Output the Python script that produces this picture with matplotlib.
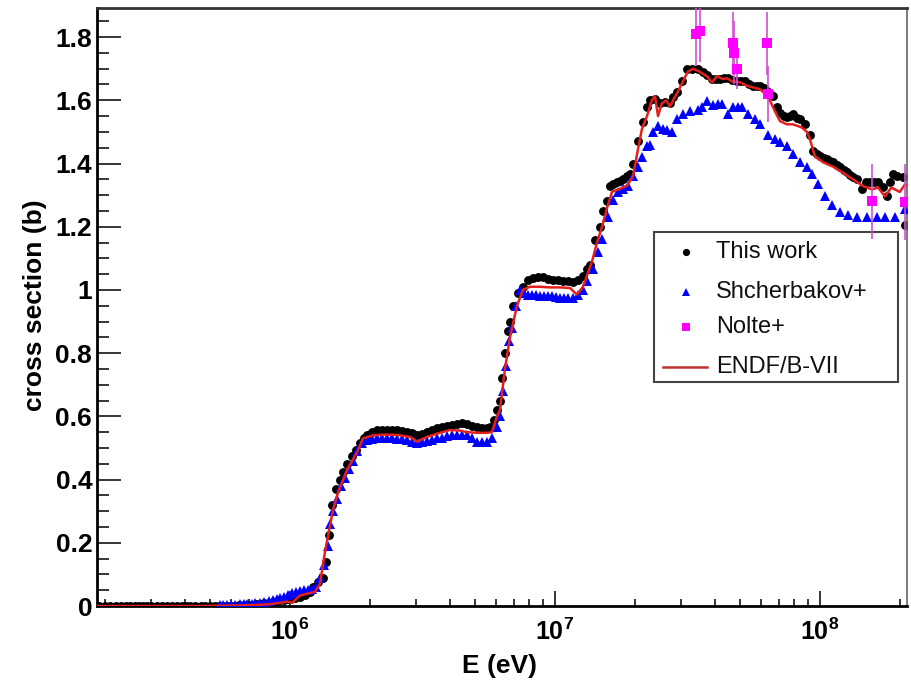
import numpy as np
import matplotlib
matplotlib.use('Agg')
import matplotlib.pyplot as plt
from matplotlib.ticker import FixedLocator, LogLocator, MultipleLocator, NullFormatter, FuncFormatter
from matplotlib.patches import Rectangle
from matplotlib.lines import Line2D

plt.rcParams['font.family'] = ['Liberation Sans', 'DejaVu Sans']
plt.rcParams['mathtext.fontset'] = 'custom'
plt.rcParams['mathtext.rm'] = 'Liberation Sans:bold'
plt.rcParams['mathtext.bf'] = 'Liberation Sans:bold'
plt.rcParams['mathtext.it'] = 'Liberation Sans:bold'

# ---------------- data (E in MeV, cross section in barn) ----------------
this_work = [
    (0.19, 0.0), (0.20, 0.0), (0.21, 0.0), (0.22, 0.0), (0.23, 0.0), (0.24, 0.0), (0.25, 0.0),
    (0.26, 0.0), (0.27, 0.0), (0.28, 0.0), (0.29, 0.0), (0.30, 0.0), (0.315, 0.0), (0.33, 0.0),
    (0.345, 0.0), (0.36, 0.0), (0.375, 0.0), (0.39, 0.0), (0.405, 0.0), (0.42, 0.0), (0.44, 0.0),
    (0.46, 0.0), (0.48, 0.0), (0.50, 0.0), (0.52, 0.0), (0.54, 0.0), (0.56, 0.0), (0.58, 0.0),
    (0.60, 0.001), (0.62, 0.001), (0.645, 0.002), (0.67, 0.002), (0.695, 0.003), (0.72, 0.004),
    (0.745, 0.005), (0.77, 0.006), (0.80, 0.008), (0.83, 0.010), (0.86, 0.012), (0.89, 0.015),
    (0.92, 0.018), (0.95, 0.020), (0.98, 0.022),
    (1.044, 0.025), (1.091, 0.03), (1.139, 0.035), (1.19, 0.045), (1.22, 0.06), (1.276, 0.075),
    (1.33, 0.09), (1.365, 0.14), (1.40, 0.225), (1.44, 0.32), (1.49, 0.37), (1.544, 0.40),
    (1.585, 0.425), (1.641, 0.45), (1.714, 0.475), (1.774, 0.495), (1.837, 0.515), (1.902, 0.53),
    (1.953, 0.54), (2.039, 0.55), (2.13, 0.556), (2.224, 0.558), (2.323, 0.557), (2.426, 0.557),
    (2.534, 0.556), (2.646, 0.555), (2.764, 0.552), (2.886, 0.548), (3.014, 0.54), (3.148, 0.545),
    (3.289, 0.552), (3.434, 0.557), (3.587, 0.562), (3.746, 0.567), (3.913, 0.57), (4.087, 0.573),
    (4.268, 0.577), (4.458, 0.58), (4.655, 0.575), (4.862, 0.568), (5.078, 0.565), (5.303, 0.564),
    (5.539, 0.563), (5.685, 0.565), (5.886, 0.59), (6.041, 0.62), (6.201, 0.65), (6.31, 0.72),
    (6.476, 0.80), (6.647, 0.87), (6.764, 0.897), (6.943, 0.95), (7.252, 0.99), (7.572, 1.01),
    (7.91, 1.03), (8.26, 1.038), (8.627, 1.04), (9.01, 1.04), (9.41, 1.035), (9.828, 1.032),
    (10.26, 1.03), (10.72, 1.027), (11.2, 1.027), (11.69, 1.025), (12.21, 1.03), (12.76, 1.045),
    (13.21, 1.065), (13.56, 1.08), (14.16, 1.157), (14.79, 1.20), (15.18, 1.25), (15.72, 1.28),
    (16.13, 1.33), (16.55, 1.335), (17.14, 1.34), (17.59, 1.345), (18.06, 1.35), (18.7, 1.36),
    (19.19, 1.366), (19.7, 1.40), (20.57, 1.47), (21.48, 1.53), (22.25, 1.58), (22.83, 1.60),
    (23.85, 1.603), (24.91, 1.59), (26.01, 1.595), (27.16, 1.59), (27.88, 1.61), (28.87, 1.625),
    (30.16, 1.66), (31.49, 1.70), (32.88, 1.70), (34.64, 1.698), (36.18, 1.69), (37.46, 1.68),
    (39.13, 1.667), (40.5, 1.666), (41.95, 1.667), (43.4, 1.67), (44.96, 1.67), (46.55, 1.665),
    (48.62, 1.66), (50.3, 1.66), (52.12, 1.66), (54.0, 1.652), (55.87, 1.645), (57.8, 1.645),
    (59.36, 1.645), (61.5, 1.64), (63.1, 1.63), (64.9, 1.62), (66.47, 1.613), (68.8, 1.58),
    (70.64, 1.56), (73.1, 1.55), (75.07, 1.546), (77.05, 1.55), (79.09, 1.556), (81.9, 1.545),
    (84.04, 1.54), (87.78, 1.524), (91.68, 1.49), (94.1, 1.44), (97.4, 1.43), (100.0, 1.423),
    (103.5, 1.418), (106.3, 1.413), (109.1, 1.408), (112.0, 1.404), (116.0, 1.395), (119.0, 1.388),
    (123.2, 1.38), (126.5, 1.372), (129.8, 1.365), (133.2, 1.356), (137.9, 1.35), (144.1, 1.318),
    (149.1, 1.343), (154.5, 1.343), (159.8, 1.342), (165.6, 1.343), (172.9, 1.325), (179.0, 1.296),
    (183.9, 1.34), (188.6, 1.366), (195.4, 1.36), (205.7, 1.356), (209.4, 1.207),
]

shcherbakov = [
    (0.544, 0.002), (0.56, 0.002), (0.58, 0.003), (0.60, 0.003), (0.62, 0.004), (0.648, 0.005),
    (0.67, 0.005), (0.69, 0.006), (0.72, 0.007), (0.74, 0.008), (0.77, 0.010), (0.80, 0.012),
    (0.83, 0.015), (0.86, 0.018), (0.89, 0.022), (0.917, 0.025), (0.95, 0.03), (0.98, 0.035),
    (1.02, 0.04), (1.05, 0.045), (1.09, 0.048), (1.13, 0.05), (1.17, 0.052), (1.21, 0.055),
    (1.25, 0.06), (1.298, 0.09), (1.34, 0.13), (1.39, 0.19), (1.415, 0.26), (1.45, 0.30),
    (1.505, 0.34), (1.56, 0.38), (1.61, 0.405), (1.67, 0.435), (1.73, 0.46), (1.79, 0.49),
    (1.87, 0.515), (1.953, 0.525), (2.039, 0.528), (2.13, 0.53), (2.224, 0.53), (2.323, 0.53),
    (2.426, 0.53), (2.534, 0.528), (2.646, 0.527), (2.764, 0.525), (2.886, 0.52), (3.014, 0.515),
    (3.148, 0.52), (3.289, 0.523), (3.434, 0.525), (3.587, 0.53), (3.746, 0.533), (3.913, 0.537),
    (4.087, 0.54), (4.268, 0.54), (4.458, 0.54), (4.655, 0.54), (4.862, 0.53), (5.078, 0.52),
    (5.303, 0.52), (5.539, 0.52), (5.78, 0.53), (6.041, 0.567), (6.201, 0.60), (6.39, 0.68),
    (6.53, 0.76), (6.70, 0.84), (6.88, 0.88), (7.13, 0.95), (7.38, 1.0), (7.64, 0.99),
    (7.91, 0.985), (8.19, 0.985), (8.48, 0.985), (8.78, 0.98), (9.09, 0.98), (9.41, 0.98),
    (9.74, 0.98), (10.09, 0.978), (10.44, 0.975), (10.81, 0.975), (11.2, 0.975), (11.69, 0.975),
    (12.21, 0.985), (12.76, 1.0), (13.21, 1.027), (13.92, 1.065), (14.54, 1.12), (15.05, 1.16),
    (15.86, 1.23), (16.55, 1.286), (17.29, 1.31), (18.06, 1.32), (18.87, 1.33), (19.7, 1.36),
    (20.57, 1.39), (21.3, 1.42), (22.25, 1.455), (22.83, 1.46), (23.43, 1.50), (24.48, 1.52),
    (25.56, 1.51), (26.5, 1.505), (27.64, 1.50), (28.87, 1.54), (30.41, 1.556), (32.31, 1.565),
    (34.64, 1.57), (35.87, 1.578), (37.46, 1.597), (39.47, 1.585), (41.2, 1.587), (42.68, 1.587),
    (44.96, 1.556), (46.96, 1.578), (49.0, 1.58), (50.78, 1.58), (53.49, 1.556), (56.85, 1.54),
    (59.36, 1.524), (63.66, 1.49), (67.63, 1.476), (70.64, 1.467), (75.07, 1.455), (79.09, 1.43),
    (84.04, 1.404), (89.31, 1.388), (93.29, 1.366), (98.29, 1.334), (104.4, 1.296), (111.0, 1.27),
    (119.0, 1.248), (127.6, 1.236), (137.9, 1.23), (150.5, 1.23), (164.1, 1.23), (175.9, 1.23),
    (191.9, 1.23), (209.4, 1.255),
]

endf = [
    (0.187, 0.0), (0.25, 0.0), (0.35, 0.0), (0.45, 0.0), (0.55, 0.001), (0.65, 0.002),
    (0.77, 0.004), (0.84, 0.006), (0.917, 0.01), (0.98, 0.014), (1.02, 0.01), (1.09, 0.033),
    (1.243, 0.045), (1.298, 0.07), (1.355, 0.17), (1.45, 0.30), (1.52, 0.36), (1.641, 0.43),
    (1.80, 0.49), (1.885, 0.53), (2.06, 0.54), (2.24, 0.542), (2.45, 0.542), (2.60, 0.54),
    (2.84, 0.535), (3.014, 0.52), (3.289, 0.535), (3.587, 0.545), (4.02, 0.557), (4.38, 0.555),
    (4.655, 0.55), (5.078, 0.548), (5.539, 0.548), (5.78, 0.55), (6.041, 0.60), (6.201, 0.62),
    (6.476, 0.75), (6.764, 0.85), (7.19, 0.95), (7.572, 1.0), (8.03, 1.01), (8.78, 1.01),
    (9.58, 1.008), (10.44, 1.008), (11.4, 1.006), (12.1, 0.985), (12.76, 1.01), (13.8, 1.09),
    (14.41, 1.15), (15.05, 1.20), (15.72, 1.26), (16.41, 1.31), (17.59, 1.32), (18.7, 1.33),
    (19.7, 1.36), (20.57, 1.445), (21.3, 1.51), (22.25, 1.55), (23.2, 1.60), (23.85, 1.613),
    (24.48, 1.55), (25.3, 1.59), (26.3, 1.60), (27.16, 1.58), (28.3, 1.61), (29.0, 1.625),
    (30.4, 1.66), (31.7, 1.69), (33.2, 1.70), (35.25, 1.69), (37.46, 1.676), (39.13, 1.657),
    (40.8, 1.676), (43.06, 1.667), (44.5, 1.67), (46.55, 1.66), (49.9, 1.657), (53.49, 1.645),
    (59.36, 1.635), (63.66, 1.613), (67.63, 1.565), (70.64, 1.534), (75.07, 1.524), (79.09, 1.524),
    (85.4, 1.514), (89.31, 1.50), (91.68, 1.476), (95.7, 1.423), (102.6, 1.404), (112.0, 1.39),
    (121.5, 1.372), (133.2, 1.35), (145.8, 1.328), (157.2, 1.318), (165.6, 1.324), (175.9, 1.296),
    (186.0, 1.324), (200.0, 1.31), (209.4, 1.334), (213.0, 1.33),
]

nolte_E = [34.0, 35.3, 47.0, 47.5, 48.6, 63.1, 63.5, 157.2, 209.0]
nolte_xs = [1.81, 1.82, 1.78, 1.75, 1.70, 1.78, 1.62, 1.28, 1.277]
nolte_err = [0.10, 0.10, 0.10, 0.10, 0.065, 0.10, 0.09, 0.12, 0.12]

legend_labels = ['This work', 'Shcherbakov+', 'Nolte+', 'ENDF/B-VII']
x_tick_vals = [1e6, 1e7, 1e8]
x_tick_labels = [r'$\mathbf{10^{6}}$', r'$\mathbf{10^{7}}$', r'$\mathbf{10^{8}}$']

# ---------------- figure ----------------
W, H = 912, 683
fig = plt.figure(figsize=(W / 100, H / 100), dpi=100)
ax = fig.add_axes([97 / W, (H - 606) / H, (907 - 97) / W, (606 - 8) / H])

RED = '#e4201c'

tw = np.array(this_work)
sh = np.array(shcherbakov)
en = np.array(endf)

ax.plot(tw[:, 0] * 1e6, tw[:, 1], 'o', color='black', ms=6.4, mew=0, zorder=2)
ax.plot(sh[:, 0] * 1e6, sh[:, 1], '^', color='#0000ff', ms=6.8, mew=0, zorder=3)
ax.plot(en[:, 0] * 1e6, en[:, 1], '-', color=RED, lw=1.8, zorder=4)
ax.errorbar(np.array(nolte_E) * 1e6, nolte_xs, yerr=nolte_err, fmt='s', color='#ff00ff',
            ecolor='#d050d0', elinewidth=1.2, capsize=3.5, capthick=1.2, ms=6.5, mew=0, zorder=6)

ax.set_xscale('log')
ax.set_xlim(1.87e5, 2.13e8)
ax.set_ylim(0, 1.892)

ax.xaxis.set_major_locator(FixedLocator(x_tick_vals))
ax.set_xticklabels(x_tick_labels)
ax.xaxis.set_minor_locator(LogLocator(base=10, subs=np.arange(2, 10)))
ax.xaxis.set_minor_formatter(NullFormatter())
ax.yaxis.set_major_locator(MultipleLocator(0.2))
ax.yaxis.set_minor_locator(MultipleLocator(0.05))
ax.yaxis.set_major_formatter(FuncFormatter(lambda v, p: '%g' % round(v, 2)))

ax.tick_params(axis='x', which='major', direction='in', length=10.8, width=1.1, pad=9,
               labelsize=18, top=False)
ax.tick_params(axis='x', which='minor', direction='in', length=5, width=1.1, top=False)
ax.tick_params(axis='y', which='major', direction='in', length=17, width=1.1, pad=3.5,
               labelsize=19, right=False)
ax.tick_params(axis='y', which='minor', direction='in', length=8.6, width=1.1, right=False)
for lab in ax.get_yticklabels():
    lab.set_fontweight('bold')

ax.spines['left'].set_linewidth(2.0)
ax.spines['bottom'].set_linewidth(2.0)
ax.spines['top'].set_linewidth(2.0)
ax.spines['top'].set_color('#333333')
ax.spines['right'].set_linewidth(1.2)
ax.spines['right'].set_color('#666666')

fig.text(500 / W, 1 - 666 / H, 'E (eV)', ha='center', va='center', fontsize=19, fontweight='bold')
fig.text(35 / W, 1 - 305 / H, 'cross section (b)', ha='center', va='center', rotation=90,
         fontsize=19, fontweight='bold')

# ---------------- legend (ROOT style) ----------------
def fx(px):
    return (px - 97) / 810

def fy(py):
    return (606 - py) / 598

ax.add_patch(Rectangle((fx(654), fy(382)), fx(898) - fx(654), fy(232) - fy(382),
                       transform=ax.transAxes, facecolor='white', edgecolor='#444444',
                       lw=1.5, zorder=5, clip_on=False))
rows = [252, 292, 327, 367]
ax.plot([fx(686)], [fy(rows[0])], 'o', color='black', ms=5.2, mew=0, transform=ax.transAxes,
        zorder=5.5, clip_on=False)
ax.plot([fx(686)], [fy(rows[1])], '^', color='#0000ff', ms=5.2, mew=0, transform=ax.transAxes,
        zorder=5.5, clip_on=False)
ax.plot([fx(686)], [fy(rows[2])], 's', color='#ff00ff', ms=5.2, mew=0, transform=ax.transAxes,
        zorder=5.5, clip_on=False)
ax.add_line(Line2D([fx(663), fx(707)], [fy(rows[3]), fy(rows[3])], color='#c03030', lw=1.8,
                   transform=ax.transAxes, zorder=5.5, clip_on=False))
for r, lab in zip(rows, legend_labels):
    ax.text(fx(716), fy(r), lab, transform=ax.transAxes, ha='left', va='center',
            fontsize=17, color='#111111', zorder=5.5)

fig.savefig('out.png', dpi=100)
